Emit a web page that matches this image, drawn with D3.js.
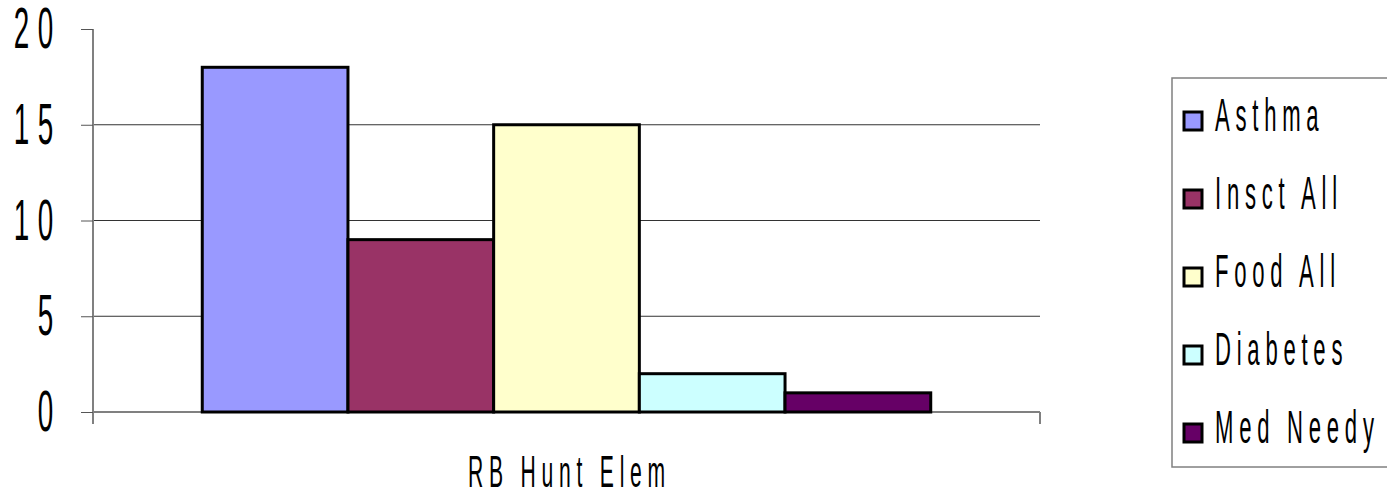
<!DOCTYPE html>
<html>
<head>
<meta charset="utf-8">
<script src="https://cdn.jsdelivr.net/npm/d3@7"></script>
<style>
  body { margin: 0; background: #fff; }
  text { font-family: "Liberation Sans", Arial, sans-serif; fill: #000; }
</style>
</head>
<body>
<script>
// data
var categories = ["RB Hunt Elem"];
var seriesNames = ["Asthma", "Insct All", "Food All", "Diabetes", "Med Needy"];
var seriesValues = [18, 9, 15, 2, 1];
var seriesColors = ["#9999ff", "#993366", "#ffffcc", "#ccffff", "#660066"];
var yTicks = [0, 5, 10, 15, 20];

var W = 1387, H = 495;
// plot edges (note: "top" is reserved on window, so use other names)
var plotL = 93, plotR = 1040, plotT = 29, plotB = 412;

var svg = d3.select("body").append("svg").attr("width", W).attr("height", H);

// horizontally squeezed, widely spaced text like the old excel export
var sx = 0.48;
function addText(x, y, str, size, anchor, spacing) {
  var g = svg.append("g").attr("transform", "translate(" + x + "," + y + ") scale(" + sx + ",1)");
  g.append("text")
    .attr("text-anchor", anchor)
    .style("font-size", size + "px")
    .style("letter-spacing", spacing + "px")
    .text(str);
}

// scales
var y = d3.scaleLinear().domain([0, 20]).range([plotB, plotT]);
var x0 = d3.scaleBand().domain(categories).range([plotL, plotR]).paddingOuter(0.15).paddingInner(0);
var x1 = d3.scaleBand().domain(seriesNames).range([0, x0.bandwidth()]).padding(0);

// gridlines (not at 0 or 20)
svg.selectAll("line.grid")
  .data(yTicks.filter(function (d) { return d > 0 && d < 20; }))
  .enter().append("line")
  .attr("class", "grid")
  .attr("x1", plotL).attr("x2", plotR)
  .attr("y1", function (d) { return y(d); })
  .attr("y2", function (d) { return y(d); })
  .attr("stroke", "#333").attr("stroke-width", 1);

// y axis
var yAxis = d3.axisLeft(y).tickValues(yTicks).tickSize(12).tickFormat("");
var gy = svg.append("g").attr("transform", "translate(" + plotL + ",0)").call(yAxis);
gy.select(".domain").attr("stroke", "#808080").attr("stroke-width", 2).attr("d", "M0," + plotT + "V" + (plotB + 12));
gy.selectAll(".tick line").attr("stroke", "#555").attr("stroke-width", 1);

// x axis line with end tick
svg.append("line").attr("x1", plotL).attr("x2", plotR).attr("y1", plotB).attr("y2", plotB)
  .attr("stroke", "#808080").attr("stroke-width", 2);
svg.append("line").attr("x1", plotR).attr("x2", plotR).attr("y1", plotB).attr("y2", plotB + 12)
  .attr("stroke", "#808080").attr("stroke-width", 2);

// y tick labels
yTicks.forEach(function (t) {
  addText(62, y(t) + 19, String(t), 58, "end", 18);
});

// bars
var group = svg.selectAll("g.cat").data(categories).enter().append("g")
  .attr("class", "cat")
  .attr("transform", function (d) { return "translate(" + x0(d) + ",0)"; });

group.selectAll("rect")
  .data(seriesNames.map(function (n, i) { return { name: n, value: seriesValues[i], color: seriesColors[i] }; }))
  .enter().append("rect")
  .attr("x", function (d) { return x1(d.name); })
  .attr("y", function (d) { return y(d.value); })
  .attr("width", x1.bandwidth())
  .attr("height", function (d) { return plotB - y(d.value); })
  .attr("fill", function (d) { return d.color; })
  .attr("stroke", "#000").attr("stroke-width", 3);

// category label
addText(x0(categories[0]) + x0.bandwidth() / 2 + 3, 487, categories[0], 44, "middle", 12);

// legend
svg.append("rect").attr("x", 1172).attr("y", 78).attr("width", 230).attr("height", 389)
  .attr("fill", "#fff").attr("stroke", "#808080").attr("stroke-width", 1.5);

seriesNames.forEach(function (n, i) {
  var base = 131 + i * 78;
  svg.append("rect").attr("x", 1184).attr("y", base - 19).attr("width", 18).attr("height", 18)
    .attr("fill", seriesColors[i]).attr("stroke", "#000").attr("stroke-width", 3);
  addText(1215, base, n, 46, "start", 12);
});
</script>
</body>
</html>
